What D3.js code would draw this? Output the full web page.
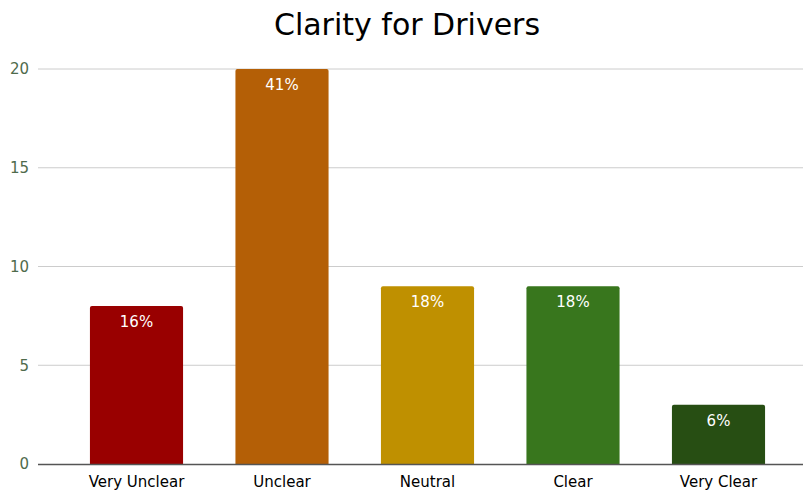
<!DOCTYPE html>
<html>
<head>
<meta charset="utf-8">
<script src="https://cdn.jsdelivr.net/npm/d3@7"></script>
<style>
  html, body { margin: 0; padding: 0; background: #fff; }
  svg { display: block; font-family: "DejaVu Sans", Verdana, sans-serif; }
</style>
</head>
<body>
<svg id="chart" width="803" height="493"></svg>
<script>
// Survey responses: how clear things are for drivers
const categories = ["Very Unclear", "Unclear", "Neutral", "Clear", "Very Clear"];
const counts = [8, 20, 9, 9, 3];
const percentLabels = ["16%", "41%", "18%", "18%", "6%"];
const barColors = ["#990000", "#b45f06", "#bf9000", "#38761d", "#274e13"];
const yTicks = [0, 5, 10, 15, 20];

const svg = d3.select("#chart");
const plotLeft = 38, plotRight = 803, plotTop = 69, plotBottom = 464;

const x = d3.scaleBand()
  .domain(categories)
  .range([63.75, 791.25])
  .paddingInner(0.36)
  .paddingOuter(0.18);

const y = d3.scaleLinear()
  .domain([0, 20])
  .range([plotBottom, plotTop]);

// Title
svg.append("text")
  .attr("x", 407)
  .attr("y", 35)
  .attr("text-anchor", "middle")
  .attr("font-size", 30)
  .attr("fill", "#000")
  .text("Clarity for Drivers");

// Horizontal gridlines
svg.append("g")
  .selectAll("line")
  .data(yTicks.filter(d => d !== 0))
  .join("line")
  .attr("x1", plotLeft)
  .attr("x2", plotRight)
  .attr("y1", d => y(d))
  .attr("y2", d => y(d))
  .attr("stroke", "#cccccc")
  .attr("stroke-width", 1);

// Y axis tick labels
const yAxis = d3.axisLeft(y).tickValues(yTicks).tickSize(0).tickPadding(0);
const gy = svg.append("g")
  .attr("transform", "translate(29,0)")
  .call(yAxis);
gy.select(".domain").remove();
gy.selectAll("text")
  .attr("font-size", 15)
  .attr("font-family", "DejaVu Sans, Verdana, sans-serif")
  .attr("fill", "#4f6b4c");

// Bars with slightly rounded tops
const r = 2;
function barPath(d, i) {
  const x0 = x(categories[i]), w = x.bandwidth();
  const yt = y(d), yb = y(0);
  return `M${x0},${yb}V${yt + r}Q${x0},${yt} ${x0 + r},${yt}H${x0 + w - r}Q${x0 + w},${yt} ${x0 + w},${yt + r}V${yb}Z`;
}
svg.append("g")
  .selectAll("path")
  .data(counts)
  .join("path")
  .attr("d", (d, i) => barPath(d, i))
  .attr("fill", (d, i) => barColors[i]);

// Percentage labels inside bars
svg.append("g")
  .selectAll("text")
  .data(counts)
  .join("text")
  .attr("x", (d, i) => x(categories[i]) + x.bandwidth() / 2)
  .attr("y", d => y(d) + 21)
  .attr("text-anchor", "middle")
  .attr("font-size", 15)
  .attr("fill", "#ffffff")
  .text((d, i) => percentLabels[i]);

// Baseline axis with category labels
const xAxis = d3.axisBottom(x).tickSize(0).tickPadding(0);
const gx = svg.append("g")
  .attr("transform", `translate(0,${plotBottom})`)
  .call(xAxis);
gx.select(".domain").remove();
gx.append("line")
  .attr("x1", plotLeft)
  .attr("x2", plotRight)
  .attr("y1", 0.5)
  .attr("y2", 0.5)
  .attr("stroke", "#555555")
  .attr("stroke-width", 1.3);
gx.selectAll(".tick text")
  .attr("y", 23)
  .attr("dy", null)
  .attr("font-size", 15)
  .attr("font-family", "DejaVu Sans, Verdana, sans-serif")
  .attr("fill", "#000");
</script>
</body>
</html>
